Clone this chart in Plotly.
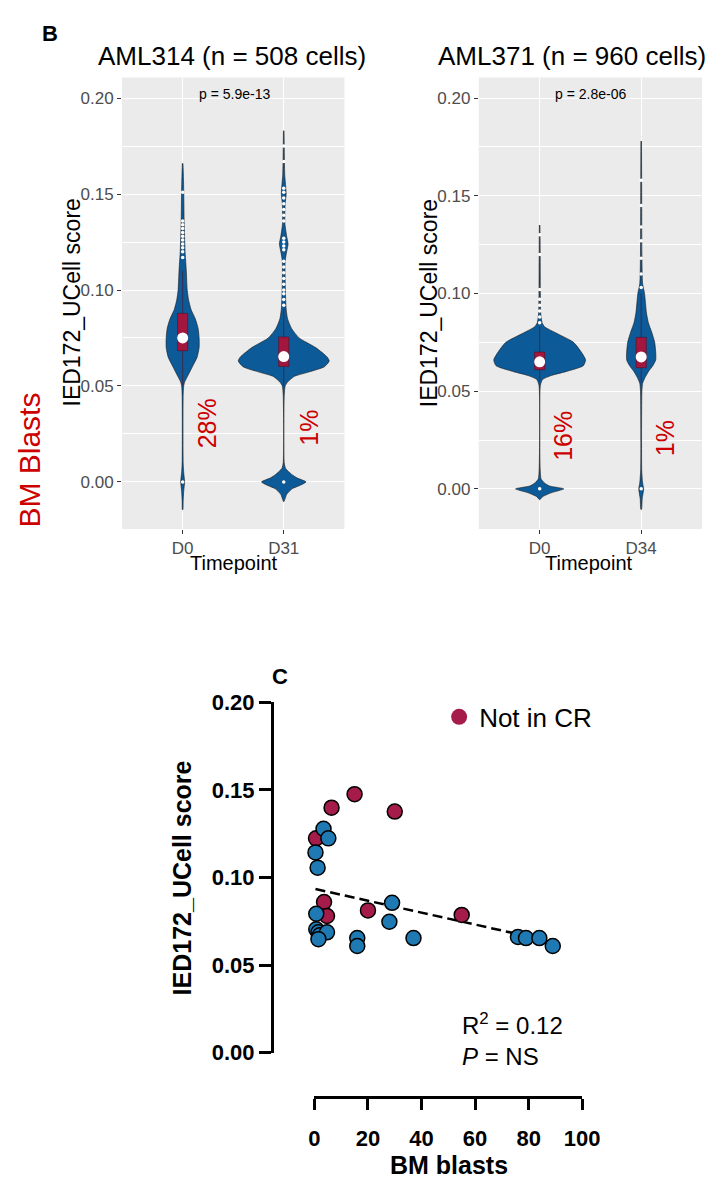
import plotly.graph_objects as go

W, H = 723, 1191
def P(x): return x / W
def Q(y): return 1 - y / H

# ---------------- Panel B data ----------------
# violin density profiles: (score level, half-width in category units)
aml314_d0_y  = [0.166, 0.16, 0.15, 0.135, 0.12, 0.11, 0.10, 0.095, 0.09, 0.085, 0.08, 0.075, 0.07, 0.065, 0.06, 0.055, 0.052, 0.05, 0.045, 0.01, 0.005, 0.0, -0.005, -0.01, -0.0145]
aml314_d0_w  = [0.003, 0.007, 0.011, 0.015, 0.024, 0.036, 0.045, 0.058, 0.082, 0.125, 0.153, 0.163, 0.163, 0.143, 0.096, 0.048, 0.019, 0.010, 0.005, 0.005, 0.010, 0.019, 0.010, 0.005, 0.002]
aml314_d31_y = [0.183, 0.17, 0.16, 0.15, 0.145, 0.135, 0.128, 0.124, 0.12, 0.115, 0.105, 0.095, 0.09, 0.085, 0.08, 0.075, 0.07, 0.065, 0.063, 0.06, 0.057, 0.055, 0.052, 0.05, 0.045, 0.01, 0.007, 0.004, 0.002, 0.0, -0.002, -0.0035, -0.0065, -0.0102]
aml314_d31_w = [0.003, 0.006, 0.010, 0.024, 0.014, 0.011, 0.029, 0.043, 0.029, 0.014, 0.014, 0.019, 0.024, 0.038, 0.077, 0.153, 0.316, 0.431, 0.450, 0.402, 0.230, 0.105, 0.038, 0.014, 0.005, 0.005, 0.019, 0.077, 0.134, 0.220, 0.153, 0.086, 0.029, 0.003]
aml371_d0_y  = [0.135, 0.12, 0.10, 0.09, 0.085, 0.083, 0.08, 0.075, 0.07, 0.066, 0.063, 0.06, 0.058, 0.056, 0.053, 0.01, 0.005, 0.003, 0.0015, 0.0, -0.002, -0.004, -0.0055]
aml371_d0_w  = [0.003, 0.005, 0.007, 0.010, 0.024, 0.048, 0.152, 0.333, 0.410, 0.452, 0.429, 0.257, 0.114, 0.029, 0.007, 0.005, 0.014, 0.048, 0.095, 0.238, 0.114, 0.029, 0.003]
aml371_d34_y = [0.178, 0.15, 0.12, 0.105, 0.10, 0.09, 0.085, 0.08, 0.075, 0.07, 0.066, 0.063, 0.06, 0.057, 0.054, 0.05, 0.01, 0.003, 0.0, -0.005, -0.0105]
aml371_d34_w = [0.003, 0.005, 0.007, 0.014, 0.033, 0.052, 0.071, 0.105, 0.133, 0.143, 0.143, 0.114, 0.071, 0.038, 0.014, 0.007, 0.005, 0.014, 0.024, 0.010, 0.003]

# box statistics per timepoint: q1, median, q3, lower fence, upper fence, mean
aml314_box = {"D0": [0.0684, 0.0745, 0.0878, 0.050, 0.110, 0.0750],
              "D31": [0.0602, 0.0650, 0.0755, 0.050, 0.090, 0.0653]}
aml371_box = {"D0": [0.0610, 0.0650, 0.0700, 0.055, 0.083, 0.0650],
              "D34": [0.0620, 0.0670, 0.0775, 0.054, 0.100, 0.0675]}

# outlying cells (white dots)
aml314_d0_out  = [0.0, 0.117, 0.120, 0.122, 0.124, 0.126, 0.128, 0.130, 0.132, 0.134, 0.136, 0.151]
aml314_d31_out = [0.0, 0.092, 0.095, 0.098, 0.100, 0.103, 0.106, 0.109, 0.112, 0.115, 0.121, 0.123, 0.125, 0.127, 0.136, 0.139, 0.142, 0.145, 0.148, 0.151, 0.153, 0.167, 0.175]
aml371_d0_out  = [0.0, 0.085, 0.088, 0.091, 0.094, 0.097, 0.102, 0.120, 0.130]
aml371_d34_out = [0.0, 0.103, 0.110, 0.118, 0.127, 0.134, 0.145, 0.158]

panels = [
    {"title": "AML314 (n = 508 cells)", "p": "p = 5.9e-13", "cats": ["D0", "D31"],
     "prof": [(aml314_d0_y, aml314_d0_w), (aml314_d31_y, aml314_d31_w)],
     "box": aml314_box, "out": [aml314_d0_out, aml314_d31_out], "blasts": ["28%", "1%"],
     "yr": [-0.0245, 0.2107]},
    {"title": "AML371 (n = 960 cells)", "p": "p = 2.8e-06", "cats": ["D0", "D34"],
     "prof": [(aml371_d0_y, aml371_d0_w), (aml371_d34_y, aml371_d34_w)],
     "box": aml371_box, "out": [aml371_d0_out, aml371_d34_out], "blasts": ["16%", "1%"],
     "yr": [-0.0205, 0.2105]},
]

# ---------------- Panel C data ----------------
cr_blasts = [0.4, 1.2, 3.4, 5.2, 0.7, 0.7, 1.5, 2.0, 4.7, 1.5, 16, 16, 28, 29, 37, 76, 79, 84, 89]
cr_score = [0.1143, 0.1056, 0.1278, 0.1223, 0.0793, 0.0704, 0.0687, 0.0670, 0.0687, 0.0648,
            0.0654, 0.0609, 0.0747, 0.0855, 0.0654, 0.0660, 0.0654, 0.0654, 0.0609]
ncr_blasts = [0.6, 6.4, 15, 30, 3.6, 4.7, 20, 55]
ncr_score = [0.1223, 0.1398, 0.1475, 0.1376, 0.0860, 0.0780, 0.0812, 0.0786]
fit_intercept = 0.0935
fit_slope = -0.00034

VIOLIN = "#0C5A98"
BOXC = "#A3173F"
BLUE = "#1F7AB3"
RED = "#A51C4A"

fig = go.Figure()
layout_axes = {}
annotations = []
shapes = []

def note(text, x, y, size, color="black", angle=0, xanchor="center"):
    annotations.append(dict(text=text, x=P(x), y=Q(y), xref="paper", yref="paper",
                            xanchor=xanchor, yanchor="middle", showarrow=False,
                            textangle=angle, font=dict(size=size, color=color)))

panel_px = [(120, 350), (489, 720)]
top_px, bot_px = 67, 528

for i, pn in enumerate(panels):
    xa, ya = ("x", "y") if i == 0 else ("x2", "y2")
    xo, yo = ("x4", "y4") if i == 0 else ("x5", "y5")   # overlay axes for boxes
    for j, (yy, ww) in enumerate(pn["prof"]):
        xs = [j + w for w in ww] + [j - w for w in reversed(ww)]
        ys = list(yy) + list(reversed(yy))
        fig.add_trace(go.Scatter(x=xs, y=ys, mode="lines", fill="toself", fillcolor=VIOLIN,
                                 line=dict(color="#1a1a1a", width=0.6, shape="spline", smoothing=0.6),
                                 xaxis=xa, yaxis=ya, showlegend=False, hoverinfo="skip"))
    for j, c in enumerate(pn["cats"]):
        q1, med, q3, lf, uf, mean = pn["box"][c]
        fig.add_trace(go.Box(x=[j], q1=[q1], median=[med], q3=[q3], lowerfence=[lf], upperfence=[uf],
                             orientation="v", width=0.1, fillcolor=BOXC,
                             line=dict(color="#5a0c22", width=0.6),
                             whiskerwidth=0, boxpoints=False, xaxis=xo, yaxis=yo, showlegend=False))
        fig.add_trace(go.Scatter(x=[j] * len(pn["out"][j]), y=pn["out"][j], mode="markers",
                                 marker=dict(color="white", size=3.5), xaxis=xo, yaxis=yo,
                                 showlegend=False, hoverinfo="skip"))
        fig.add_trace(go.Scatter(x=[j], y=[mean], mode="markers",
                                 marker=dict(color="white", size=11), xaxis=xo, yaxis=yo,
                                 showlegend=False))
    x0, x1 = panel_px[i]
    key = "" if i == 0 else "2"
    okey = "4" if i == 0 else "5"
    layout_axes["xaxis" + key] = dict(domain=[P(x0), P(x1)], anchor=ya, range=[-0.6, 1.6],
                                      tickvals=[0, 1], ticktext=pn["cats"], showgrid=True,
                                      gridcolor="white", gridwidth=1.3, zeroline=False,
                                      ticks="outside", ticklen=4, tickcolor="#333333",
                                      tickfont=dict(size=17, color="#4D4D4D"))
    layout_axes["yaxis" + key] = dict(domain=[Q(bot_px), Q(top_px)], anchor=xa, range=pn["yr"],
                                      tickvals=[0, 0.05, 0.10, 0.15, 0.20], tickformat=".2f",
                                      showgrid=True, gridcolor="white", gridwidth=1.3, zeroline=False,
                                      ticks="outside", ticklen=4, tickcolor="#333333",
                                      tickfont=dict(size=17, color="#4D4D4D"),
                                      minor=dict(dtick=0.025, tick0=0, showgrid=True,
                                                 gridcolor="white", gridwidth=0.6, ticks=""))
    layout_axes["xaxis" + okey] = dict(overlaying=xa, anchor=yo, range=[-0.6, 1.6], visible=False)
    layout_axes["yaxis" + okey] = dict(overlaying=ya, anchor=xo, range=pn["yr"], visible=False)
    shapes.append(dict(type="rect", xref=xa + " domain", yref=ya + " domain", x0=0, x1=1, y0=0, y1=1,
                       fillcolor="#EBEBEB", line=dict(width=0), layer="below"))
    cx = (x0 + x1) / 2
    note(pn["title"], cx - 1 if i == 0 else 585, 45, 26)
    note(pn["p"], x0 + 116, 84, 14)
    note("IED172_UCell score", x0 - 52, 297, 23, angle=-90)
    note("Timepoint", cx + 1 if i == 0 else 603, 563, 20)

# blast percentages
for (txt, xx, yy) in [(panels[0]["blasts"][0], 208, 420), (panels[0]["blasts"][1], 313, 425),
                      (panels[1]["blasts"][0], 576, 433), (panels[1]["blasts"][1], 682, 435)]:
    note(txt, xx, yy, 25, color="#CC0000", angle=-90)
note("BM Blasts", 24, 458, 30, color="#CC0000", angle=-90)
note("<b>B</b>", 45, 22, 22)

# ---------------- Panel C ----------------
all_x = cr_blasts + ncr_blasts
fx = [min(all_x), max(all_x)]
fy = [fit_intercept + fit_slope * v for v in fx]
fig.add_trace(go.Scatter(x=fx, y=fy, mode="lines", line=dict(color="black", width=2.5, dash="10px,5px"),
                         xaxis="x3", yaxis="y3", showlegend=False, cliponaxis=False))
fig.add_trace(go.Scatter(x=ncr_blasts, y=ncr_score, mode="markers", name="Not in CR",
                         marker=dict(color=RED, size=15, line=dict(color="black", width=1.5)),
                         xaxis="x3", yaxis="y3", showlegend=False, cliponaxis=False))
fig.add_trace(go.Scatter(x=cr_blasts, y=cr_score, mode="markers", name="In CR",
                         marker=dict(color=BLUE, size=15, line=dict(color="black", width=1.5)),
                         xaxis="x3", yaxis="y3", showlegend=False, cliponaxis=False))
fig.add_trace(go.Scatter(x=[None], y=[None], mode="markers", name="Not in CR",
                         marker=dict(color=RED, size=20), xaxis="x3", yaxis="y3", showlegend=True))

layout_axes["xaxis3"] = dict(domain=[P(319), P(596)], anchor="free", position=Q(1108), range=[0, 100],
                             tickvals=[0, 20, 40, 60, 80, 100], showline=True, linecolor="black", linewidth=3,
                             ticks="outside", ticklen=11, tickwidth=3, tickcolor="black",
                             ticklabelstandoff=10,
                             showgrid=False, zeroline=False,
                             tickfont=dict(size=22, color="black", weight="bold"))
layout_axes["yaxis3"] = dict(domain=[Q(1063), Q(705)], anchor="free", position=P(275), range=[0, 0.2],
                             tickvals=[0, 0.05, 0.10, 0.15, 0.20], tickformat=".2f",
                             showline=True, linecolor="black", linewidth=3,
                             ticks="outside", ticklen=12, tickwidth=3, tickcolor="black",
                             showgrid=False, zeroline=False,
                             tickfont=dict(size=22, color="black", weight="bold"))
note("<b>BM blasts</b>", 458, 1178, 25)
note("<b>IED172_UCell score</b>", 182, 884, 25, angle=-90)
note("<b>C</b>", 283, 679, 22)
note("R<sup>2</sup> = 0.12", 470, 1034, 24, xanchor="left")
note("<i>P</i> = NS", 470, 1067, 24, xanchor="left")

fig.update_layout(width=W, height=H, margin=dict(l=0, r=0, t=0, b=0),
                  paper_bgcolor="white", plot_bgcolor="white",
                  font=dict(family="Liberation Sans, Arial, sans-serif"),
                  showlegend=True,
                  legend=dict(x=P(448), y=Q(720), xanchor="left", yanchor="middle",
                              bgcolor="rgba(0,0,0,0)", font=dict(size=26, color="black"),
                              itemsizing="trace"),
                  annotations=annotations, shapes=shapes, **layout_axes)
fig.write_html("out.html", post_script="document.body.style.margin='0';document.body.style.overflow='hidden';")
